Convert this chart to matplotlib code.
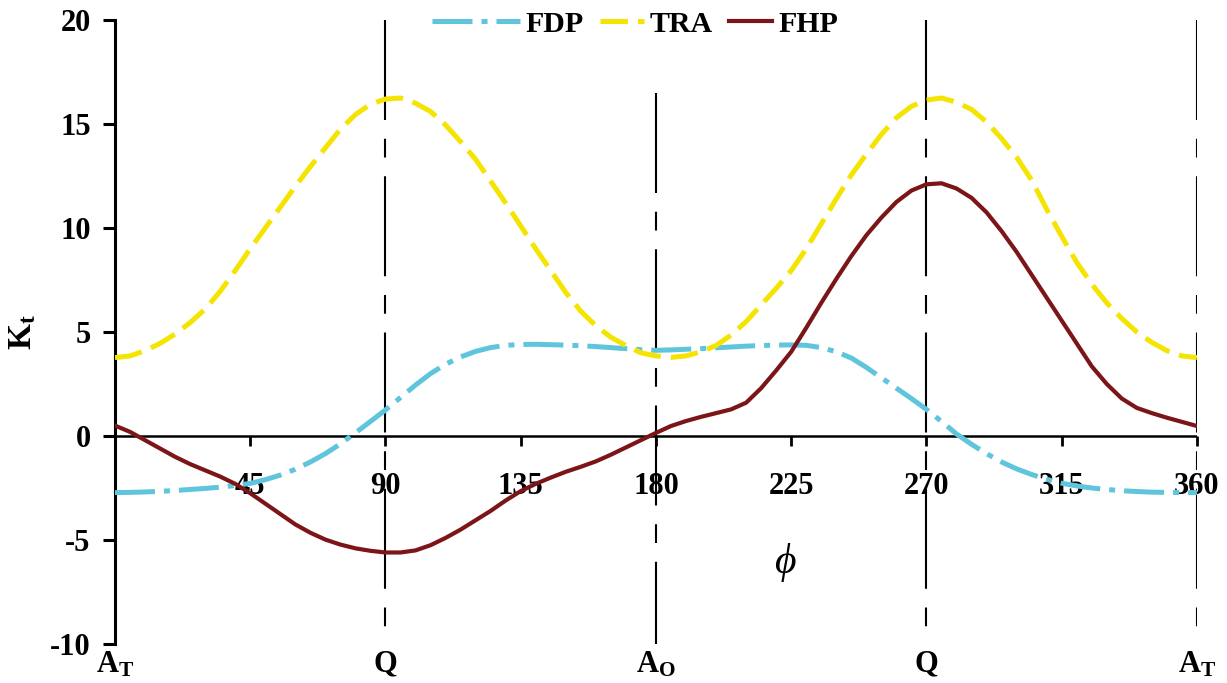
import numpy as np
import matplotlib
matplotlib.use("Agg")
import matplotlib.pyplot as plt
from matplotlib.legend_handler import HandlerLine2D

# values (phi in degrees, Kt)
phi = np.arange(0, 361, 5)

fdp = [-2.72, -2.71, -2.69, -2.66, -2.62, -2.57, -2.52, -2.46, -2.38, -2.28,
       -2.10, -1.88, -1.60, -1.25, -0.85, -0.38, 0.15, 0.70, 1.25, 1.85,
       2.45, 3.00, 3.45, 3.80, 4.07, 4.25, 4.36, 4.40, 4.41, 4.39,
       4.37, 4.34, 4.30, 4.25, 4.20, 4.15, 4.12, 4.14, 4.17, 4.20,
       4.24, 4.28, 4.32, 4.35, 4.37, 4.38, 4.36, 4.25, 4.05, 3.75,
       3.30, 2.80, 2.30, 1.80, 1.28, 0.70, 0.10, -0.40, -0.85, -1.25,
       -1.58, -1.85, -2.08, -2.27, -2.40, -2.50, -2.57, -2.63, -2.67, -2.70,
       -2.71, -2.72, -2.72]

tra = [3.77, 3.85, 4.10, 4.45, 4.90, 5.45, 6.10, 6.95, 7.95, 9.00,
       10.00, 11.00, 12.00, 12.95, 13.85, 14.75, 15.45, 15.95, 16.20, 16.25,
       16.00, 15.60, 14.95, 14.15, 13.30, 12.25, 11.20, 10.10, 9.00, 7.95,
       6.90, 6.00, 5.30, 4.75, 4.35, 4.00, 3.85, 3.78, 3.85, 4.05,
       4.35, 4.85, 5.50, 6.30, 7.10, 7.95, 9.00, 10.20, 11.40, 12.55,
       13.55, 14.50, 15.30, 15.85, 16.15, 16.25, 16.05, 15.70, 15.10, 14.30,
       13.40, 12.30, 10.90, 9.60, 8.35, 7.30, 6.40, 5.65, 5.00, 4.50,
       4.10, 3.85, 3.77]

fhp = [0.50, 0.20, -0.20, -0.60, -1.00, -1.35, -1.65, -1.95, -2.30, -2.75,
       -3.25, -3.75, -4.25, -4.65, -4.98, -5.22, -5.40, -5.52, -5.60, -5.60,
       -5.50, -5.25, -4.90, -4.50, -4.05, -3.60, -3.10, -2.65, -2.30, -2.00,
       -1.72, -1.48, -1.22, -0.90, -0.55, -0.20, 0.15, 0.48, 0.72, 0.92,
       1.10, 1.28, 1.60, 2.30, 3.15, 4.05, 5.20, 6.40, 7.55, 8.65,
       9.65, 10.50, 11.25, 11.80, 12.10, 12.15, 11.90, 11.45, 10.75, 9.85,
       8.85, 7.75, 6.65, 5.55, 4.45, 3.35, 2.50, 1.80, 1.35, 1.10,
       0.88, 0.68, 0.48]

xticks = [45, 90, 135, 180, 225, 270, 315, 360]
yticks = [-10, -5, 0, 5, 10, 15, 20]
ref_phi = [90, 180, 270, 360]
ref_top = [20, 16.5, 20, 20]
pos_phi = [0, 90, 180, 270, 360]
pos_lab = [r"$\mathrm{A_T}$", r"$\mathrm{Q}$", r"$\mathrm{A_O}$", r"$\mathrm{Q}$", r"$\mathrm{A_T}$"]

plt.rcParams["font.family"] = ["Liberation Serif", "DejaVu Serif"]
plt.rcParams["font.weight"] = "bold"
plt.rcParams["axes.unicode_minus"] = False
plt.rcParams["mathtext.fontset"] = "custom"
plt.rcParams["mathtext.rm"] = "Liberation Serif:bold"
plt.rcParams["mathtext.it"] = "Liberation Serif:bold"
plt.rcParams["mathtext.bf"] = "Liberation Serif:bold"


class LongHandle(HandlerLine2D):
    # legend line that reaches further to the left than the others
    def __init__(self, extra, **kw):
        super().__init__(**kw)
        self.extra = extra

    def create_artists(self, legend, orig_handle, xdescent, ydescent,
                       width, height, fontsize, trans):
        return super().create_artists(legend, orig_handle,
                                      xdescent + self.extra, ydescent,
                                      width + self.extra, height,
                                      fontsize, trans)


fig = plt.figure(figsize=(12.27, 6.83), dpi=100)
ax = fig.add_axes([0.0937, 0.0571, 0.8818, 0.9136])

# reference lines
for x, top in zip(ref_phi, ref_top):
    ax.plot([x, x], [top, -10], color="black", lw=1.5,
            linestyle=(0, (48, 9, 9, 9)), zorder=1)

ax.axhline(0, color="black", lw=1.8, zorder=2)

l_fdp, = ax.plot(phi, fdp, color="#5FC5DC", lw=3.6,
                 linestyle=(0, (8, 1.8, 1.2, 1.8)), label="FDP", zorder=3)
ax.plot(phi, tra, color="#F5E400", lw=3.6, linestyle=(0, (5.5, 2)),
        label="TRA", zorder=3)
ax.plot(phi, fhp, color="#7B1518", lw=3.0, label="FHP", zorder=4,
        solid_joinstyle="round")

ax.set_xlim(0, 360)
ax.set_ylim(-10, 20)

for s in ["top", "right"]:
    ax.spines[s].set_visible(False)
ax.spines["bottom"].set_position(("data", 0))
ax.spines["bottom"].set_visible(False)
ax.spines["left"].set_linewidth(2.2)

ax.set_xticks(xticks)
ax.set_xticklabels([str(v) for v in xticks])
ax.set_yticks(yticks)
ax.tick_params(axis="x", direction="out", length=7, width=2, pad=19,
               labelsize=22)
ax.tick_params(axis="y", direction="out", length=8.5, width=2.2, pad=9,
               labelsize=22)
for lab in ax.get_xticklabels():
    lab.set_zorder(6)

ax.set_ylabel(r"$\mathrm{K_t}$", fontsize=24)
ax.yaxis.set_label_coords(-0.071, 0.50)

ax.text(223, -6.1, "\u03d5", fontsize=30, style="italic", fontweight="normal",
        ha="center", va="center")

for x, lab in zip(pos_phi, pos_lab):
    ax.text(x, -10.3, lab, fontsize=22, ha="center", va="top", clip_on=False)

ax.legend(loc="center left", bbox_to_anchor=(0.334, 0.993), ncol=3,
          frameon=False, fontsize=21.5, handlelength=1.45, handletextpad=0.2,
          columnspacing=0.55, borderpad=0, borderaxespad=0,
          handler_map={l_fdp: LongHandle(32)})

fig.savefig("out.png", dpi=100)
